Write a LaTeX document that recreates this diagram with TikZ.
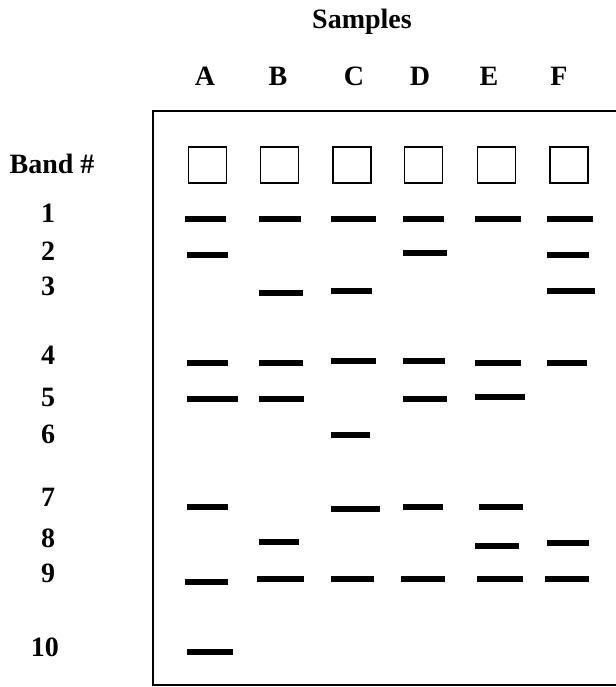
\documentclass[tikz,border=0pt]{standalone}
\usepackage{fontspec}
\setmainfont{Liberation Serif}
\usepackage{tikz}
\tikzset{
  gelframe/.style={line width=0.75pt},
  gelwell/.style={rectangle, draw, line width=0.65pt, minimum width=19pt, minimum height=18pt, inner sep=0pt},
  gelband/.style={line width=3.2pt},
  gellabel/.style={font=\fontsize{14}{16}\selectfont\bfseries, inner sep=0pt},
}

\begin{document}
\begin{tikzpicture}[x=0.5pt,y=-0.5pt]
      \useasboundingbox (0,0) rectangle (616,687);

      % Titles
      \node[gellabel] (samples) at (362,22) {Samples};
      \node[gellabel] (bandhdr) at (52,164) {Band \#};

      % Lane letters
      \node[gellabel] (la) at (205,76) {A};
      \node[gellabel] (lb) at (278,76) {B};
      \node[gellabel] (lc) at (354,76) {C};
      \node[gellabel] (ld) at (420,76) {D};
      \node[gellabel] (le) at (489,76) {E};
      \node[gellabel] (lf) at (559,76) {F};

      % Band numbers
      \node[gellabel] (n1) at (48,213) {1};
      \node[gellabel] (n2) at (48,251) {2};
      \node[gellabel] (n3) at (48,286) {3};
      \node[gellabel] (n4) at (48,355) {4};
      \node[gellabel] (n5) at (48,397) {5};
      \node[gellabel] (n6) at (48,434) {6};
      \node[gellabel] (n7) at (48,497) {7};
      \node[gellabel] (n8) at (48,538) {8};
      \node[gellabel] (n9) at (48,573) {9};
      \node[gellabel] (n10) at (45,647) {10};

      % Gel outline (open on the right)
      \draw[gelframe] (616,111) -- (153,111) -- (153,685) -- (616,685);

      % Wells
      \node[gelwell] (wa) at (207.5,165) {};
      \node[gelwell] (wb) at (279.5,165) {};
      \node[gelwell] (wc) at (352,165) {};
      \node[gelwell] (wd) at (423.5,165) {};
      \node[gelwell] (we) at (496.5,165) {};
      \node[gelwell] (wf) at (569,165) {};

      % Band 1
      \draw[gelband] (185,219) -- (226,219);
      \draw[gelband] (259,219) -- (301,219);
      \draw[gelband] (331,219) -- (376,219);
      \draw[gelband] (403,219) -- (444,219);
      \draw[gelband] (475,219) -- (521,219);
      \draw[gelband] (547,219) -- (593,219);

      % Band 2
      \draw[gelband] (187,255) -- (228,255);
      \draw[gelband] (403,253) -- (447,253);
      \draw[gelband] (547,255) -- (589,255);

      % Band 3
      \draw[gelband] (259,293) -- (303,293);
      \draw[gelband] (331,291) -- (372,291);
      \draw[gelband] (547,291) -- (595,291);

      % Band 4
      \draw[gelband] (187,363) -- (228,363);
      \draw[gelband] (259,363) -- (303,363);
      \draw[gelband] (331,361) -- (376,361);
      \draw[gelband] (403,361) -- (445,361);
      \draw[gelband] (475,363) -- (521,363);
      \draw[gelband] (547,363) -- (587,363);

      % Band 5
      \draw[gelband] (187,399) -- (238,399);
      \draw[gelband] (259,399) -- (304,399);
      \draw[gelband] (403,399) -- (447,399);
      \draw[gelband] (475,397) -- (525,397);

      % Band 6
      \draw[gelband] (331,435) -- (370,435);

      % Band 7
      \draw[gelband] (187,507) -- (228,507);
      \draw[gelband] (331,509) -- (380,509);
      \draw[gelband] (403,507) -- (443,507);
      \draw[gelband] (479,507) -- (523,507);

      % Band 8
      \draw[gelband] (259,542) -- (299,542);
      \draw[gelband] (475,546) -- (519,546);
      \draw[gelband] (547,543) -- (589,543);

      % Band 9
      \draw[gelband] (185,582) -- (228,582);
      \draw[gelband] (257,579) -- (304,579);
      \draw[gelband] (331,579) -- (374,579);
      \draw[gelband] (401,579) -- (445,579);
      \draw[gelband] (477,579) -- (523,579);
      \draw[gelband] (545,579) -- (589,579);

      % Band 10
      \draw[gelband] (187,652) -- (233,652);

\end{tikzpicture}
\end{document}
